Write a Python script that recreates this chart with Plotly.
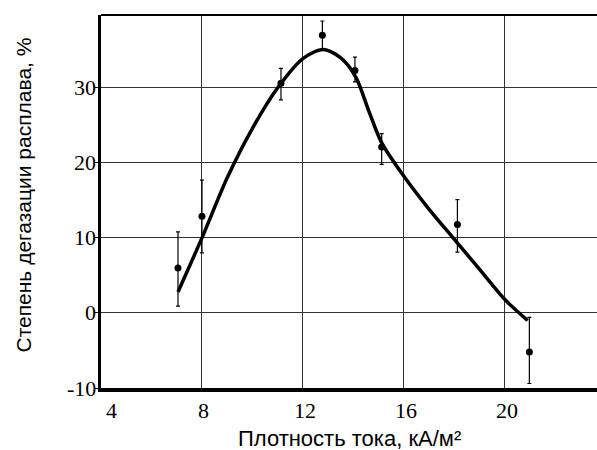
import plotly.graph_objects as go

# measured points (current density, degassing degree)
pt_x = [7.05, 8.0, 11.13, 12.77, 14.06, 15.12, 18.12, 20.97]
pt_y = [6.0, 12.9, 30.6, 37.0, 32.3, 22.1, 11.8, -5.2]
pt_hi = [10.8, 17.7, 32.6, 38.9, 34.1, 23.9, 15.1, -0.6]
pt_lo = [0.9, 8.0, 28.4, 35.0, 30.8, 19.8, 8.1, -9.4]

# fitted curve (traced)
cv_x = [7.05, 8.0, 9.0, 10.0, 11.0, 12.0, 12.8, 13.5, 14.1, 14.6, 15.1, 16.0, 17.0, 18.0, 19.0, 20.0, 20.9]
cv_y = [2.8, 10.0, 18.0, 24.6, 30.0, 33.9, 35.1, 34.0, 31.4, 27.0, 22.8, 18.2, 13.8, 9.8, 5.8, 1.8, -1.0]

x_ticks = [4, 8, 12, 16, 20]
y_ticks = [-10, 0, 10, 20, 30]

err_plus = [h - y for h, y in zip(pt_hi, pt_y)]
err_minus = [y - l for y, l in zip(pt_y, pt_lo)]

fig = go.Figure()
fig.add_trace(go.Scatter(x=cv_x, y=cv_y, mode="lines",
                         line=dict(color="black", width=3.5, shape="spline", smoothing=0.8),
                         showlegend=False, hoverinfo="skip"))
fig.add_trace(go.Scatter(x=pt_x, y=pt_y, mode="markers",
                         marker=dict(color="black", size=7),
                         error_y=dict(type="data", array=err_plus, arrayminus=err_minus,
                                      color="black", thickness=1.2, width=2),
                         showlegend=False))

serif = "Liberation Serif"
sans = "Liberation Sans"

annotations = [
    dict(text="Плотность тока, кА/м²", xref="paper", yref="paper",
         x=0.5, y=0, yshift=-50, xanchor="center", yanchor="middle",
         showarrow=False, font=dict(family=sans, size=22, color="black")),
    dict(text="Степень дегазации расплава, %", xref="paper", yref="paper",
         x=0, xshift=-78, y=0.5, yshift=6, textangle=-90,
         xanchor="center", yanchor="middle",
         showarrow=False, font=dict(family=sans, size=21, color="black")),
]
# serif tick labels (placed through the axis scales)
for v in y_ticks:
    annotations.append(dict(text=str(v), xref="paper", yref="y", x=0, y=v,
                            xshift=-3, xanchor="right", yanchor="middle",
                            showarrow=False, font=dict(family=serif, size=22, color="black")))
for v in x_ticks:
    annotations.append(dict(text=str(v), xref="x", yref="paper", x=v, y=0,
                            yshift=-22, xshift=(10 if v == x_ticks[0] else 2),
                            xanchor="center", yanchor="middle",
                            showarrow=False, font=dict(family=serif, size=22, color="black")))

fig.update_layout(
    width=597, height=450,
    margin=dict(l=101, r=0, t=15, b=62),
    plot_bgcolor="white", paper_bgcolor="white",
    xaxis=dict(range=[4, 23.65], tickvals=x_ticks, showticklabels=False,
               showgrid=True, gridcolor="#333", gridwidth=1.3,
               showline=True, linecolor="black", linewidth=3.5,
               ticks="", zeroline=False),
    yaxis=dict(range=[-10, 39.7], tickvals=y_ticks, showticklabels=False,
               showgrid=True, gridcolor="#333", gridwidth=1.3,
               showline=True, linecolor="black", linewidth=2.5,
               ticks="outside", ticklen=4, tickcolor="black", tickwidth=1.3,
               zeroline=False),
    shapes=[dict(type="line", xref="paper", yref="paper", x0=0, x1=1, y0=1, y1=1,
                 line=dict(color="black", width=2))],
    annotations=annotations,
)

fig.write_html("out.html")
